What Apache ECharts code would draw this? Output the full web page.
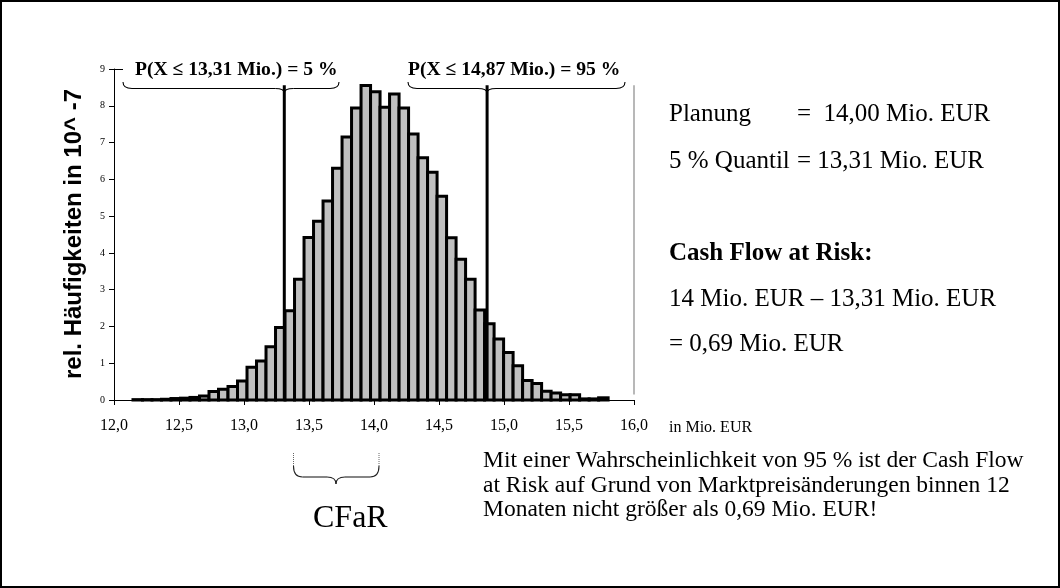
<!DOCTYPE html>
<html>
<head>
<meta charset="utf-8">
<script src="https://cdn.jsdelivr.net/npm/echarts@6/dist/echarts.min.js"></script>
<style>
  html, body { margin: 0; padding: 0; background: #fff; }
  #chart { width: 1060px; height: 588px; }
</style>
</head>
<body>
<div id="chart"></div>
<script>
// histogram of simulated cash flow (Mio. EUR), bin definition
const binStart = 12.146;
const binWidth = 0.0731;
// relative frequencies in 10^-7, one per bin
const freq = [
  0.01, 0.01, 0.01, 0.02, 0.04, 0.05, 0.07, 0.11, 0.23, 0.29,
  0.37, 0.52, 0.89, 1.06, 1.45, 1.97, 2.43, 3.28, 4.42, 4.86,
  5.41, 6.30, 7.15, 7.94, 8.55, 8.38, 7.96, 8.32, 7.94, 7.23,
  6.59, 6.19, 5.54, 4.41, 3.83, 3.28, 2.45, 2.07, 1.66, 1.29,
  0.93, 0.53, 0.45, 0.24, 0.19, 0.14, 0.14, 0.03, 0.03, 0.06
];
const quantiles = [13.31, 14.87];
const lineTop = 8.56;
const xMax = 16;

const serif = '"Liberation Serif", "Times New Roman", serif';
const sans = '"Liberation Sans", Arial, sans-serif';

const bins = freq.map((h, i) => [binStart + i * binWidth, binStart + (i + 1) * binWidth, h]);

// text helper, y = baseline
function txt(x, base, text, size, bold, family) {
  return {
    type: 'text', x: x, y: base - size * 0.34, z: 10,
    style: {
      text: text, fill: '#000',
      font: (bold ? 'bold ' : '') + size + 'px ' + (family || serif),
      align: 'left', verticalAlign: 'middle'
    }
  };
}

// curly brace, ends at y0, bar at y1, tip at (xm, y2)
function brace(x1, x2, xm, y0, y1, y2, color) {
  const r = 9;
  const st = { stroke: color || '#000', lineWidth: 1.1, fill: 'none' };
  const q = (ax, ay, cx, cy, bx, by) => ({
    type: 'bezierCurve', z: 10, style: st,
    shape: { x1: ax, y1: ay, cpx1: cx, cpy1: cy, x2: bx, y2: by }
  });
  const l = (ax, ay, bx, by) => ({
    type: 'line', z: 10, style: st, shape: { x1: ax, y1: ay, x2: bx, y2: by }
  });
  return [
    q(x1, y0, x1, y1, x1 + r, y1),
    l(x1 + r, y1, xm - r, y1),
    q(xm - r, y1, xm, y1, xm, y2),
    q(xm, y2, xm, y1, xm + r, y1),
    l(xm + r, y1, x2 - r, y1),
    q(x2 - r, y1, x2, y1, x2, y0)
  ];
}

const chart = echarts.init(document.getElementById('chart'));
chart.setOption({
  backgroundColor: '#fff',
  animation: false,
  grid: { left: 114, top: 69, width: 520, height: 331 },
  xAxis: {
    type: 'value', min: 12, max: 16, interval: 0.5,
    axisLine: { lineStyle: { color: '#000', width: 1 } },
    axisTick: { length: 5, lineStyle: { color: '#000' } },
    axisLabel: {
      color: '#000', fontFamily: serif, fontSize: 16, margin: 18,
      formatter: v => v.toFixed(1).replace('.', ',')
    },
    splitLine: { show: false }
  },
  yAxis: {
    type: 'value', min: 0, max: 9, interval: 1,
    axisLine: { show: true, lineStyle: { color: '#000', width: 1 } },
    axisTick: { show: true, length: 5, lineStyle: { color: '#000' } },
    axisLabel: { color: '#000', fontFamily: serif, fontSize: 10, margin: 9 },
    splitLine: { show: false }
  },
  series: [
    {
      type: 'custom',
      data: bins,
      encode: { x: [0, 1], y: 2 },
      renderItem(params, api) {
        const p0 = api.coord([api.value(0), api.value(2)]);
        const p1 = api.coord([api.value(1), 0]);
        return {
          type: 'rect',
          shape: { x: p0[0], y: p0[1], width: p1[0] - p0[0], height: p1[1] - p0[1] },
          style: { fill: '#c0c0c0', stroke: '#000', lineWidth: 3 }
        };
      }
    },
    {
      type: 'line', symbol: 'none', silent: true,
      lineStyle: { color: '#b8b8b8', width: 2 },
      data: [[xMax, 0.15], [xMax, lineTop]]
    },
    ...quantiles.map(q => ({
      type: 'line', symbol: 'none', silent: true, z: 5,
      lineStyle: { color: '#000', width: 3 },
      data: [[q, 0], [q, lineTop]]
    }))
  ],
  graphic: [
    { type: 'rect', shape: { x: 1, y: 1, width: 1058, height: 586 },
      style: { fill: 'none', stroke: '#000', lineWidth: 2 }, z: 20 },
    {
      type: 'text', x: 74, y: 234, rotation: Math.PI / 2, z: 10,
      style: {
        text: 'rel. Häufigkeiten in 10^ -7', fill: '#000',
        font: 'bold 24px ' + sans, align: 'center', verticalAlign: 'middle'
      }
    },
    // short tick stub at the top of the value axis
    { type: 'line', z: 10, shape: { x1: 114, y1: 69.5, x2: 123, y2: 69.5 },
      style: { stroke: '#000', lineWidth: 1 } },
    txt(135, 77, 'P(X ≤ 13,31 Mio.) = 5 %', 19.6, true),
    txt(408, 77, 'P(X ≤ 14,87 Mio.) = 95 %', 19.6, true),
    ...brace(123, 339, 284.3, 82, 88.5, 93),
    ...brace(408, 625, 487, 82, 88.5, 93),
    txt(669, 433, 'in Mio. EUR', 16, false),
    txt(669, 123, 'Planung', 25, false),
    txt(797, 123, '=  14,00 Mio. EUR', 25, false),
    txt(669, 170, '5 % Quantil', 25, false),
    txt(797, 170, '= 13,31 Mio. EUR', 25, false),
    txt(669, 262, 'Cash Flow at Risk:', 25, true),
    txt(669, 308, '14 Mio. EUR – 13,31 Mio. EUR', 25, false),
    txt(669, 353, '= 0,69 Mio. EUR', 25, false),
    // CFaR brace with dotted ends
    ...brace(293.5, 379, 336, 466, 477, 484, '#222'),
    { type: 'line', z: 10, shape: { x1: 293.5, y1: 453, x2: 293.5, y2: 466 },
      style: { stroke: '#666', lineWidth: 1, lineDash: [1, 1] } },
    { type: 'line', z: 10, shape: { x1: 379, y1: 453, x2: 379, y2: 466 },
      style: { stroke: '#666', lineWidth: 1, lineDash: [1, 1] } },
    txt(313, 529, 'CFaR', 32, false),
    txt(483, 469, 'Mit einer Wahrscheinlichkeit von 95 % ist der Cash Flow', 23.5, false),
    txt(483, 494, 'at Risk auf Grund von Marktpreisänderungen binnen 12', 23.5, false),
    txt(483, 518, 'Monaten nicht größer als 0,69 Mio. EUR!', 23.5, false)
  ]
});
</script>
</body>
</html>
